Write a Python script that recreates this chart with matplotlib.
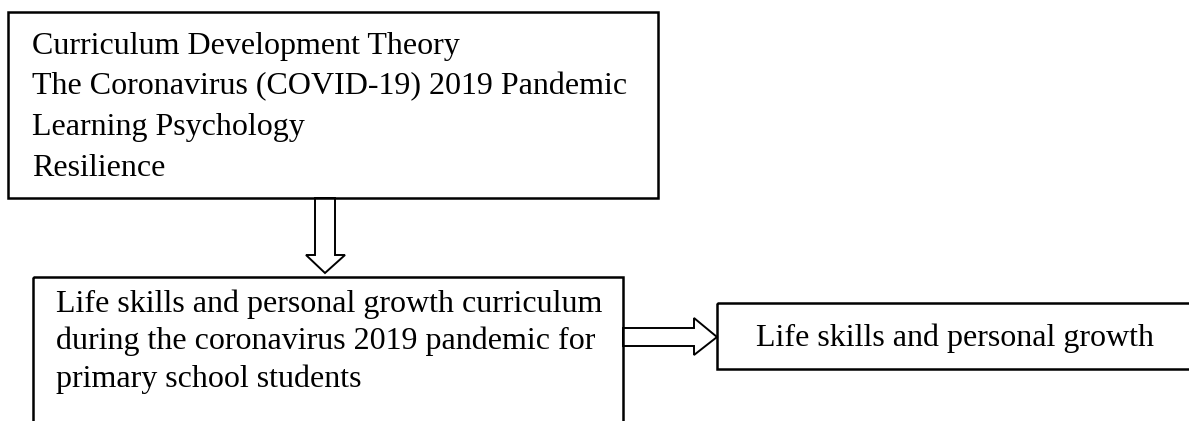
import matplotlib
matplotlib.use("Agg")
import matplotlib.pyplot as plt
from matplotlib.patches import Rectangle, Polygon

top_lines = ["Curriculum Development Theory",
             "The Coronavirus (COVID-19) 2019 Pandemic",
             "Learning Psychology",
             "Resilience"]
mid_lines = ["Life skills and personal growth curriculum",
             "during the coronavirus 2019 pandemic for",
             "primary school students"]
right_label = "Life skills and personal growth"

W, H = 1189, 421
fig = plt.figure(figsize=(W / 100, H / 100), dpi=100)
ax = fig.add_axes([0, 0, 1, 1])
ax.set_xlim(0, W)
ax.set_ylim(H, 0)
ax.axis("off")

FONT = "Liberation Serif"
FS = 23
lw_box = 1.8

# top box
ax.add_patch(Rectangle((8, 12), 650, 186, fill=False, lw=lw_box, ec="black"))
for i, t in enumerate(top_lines):
    ax.text(32, 54 + i * 40.5, t, fontsize=FS, family=FONT, va="baseline", ha="left")

# down arrow
ax.add_patch(Polygon([(315, 198), (335, 198), (335, 255), (345, 255), (325, 273),
                      (306, 255), (315, 255)], closed=True, fill=False, lw=1.4, ec="black"))

# middle box (extends below figure)
ax.add_patch(Rectangle((33, 277), 590, 200, fill=False, lw=lw_box, ec="black"))
for i, t in enumerate(mid_lines):
    ax.text(56, 312 + i * 37.5, t, fontsize=FS, family=FONT, va="baseline", ha="left")

# right arrow
ax.add_patch(Polygon([(623, 328), (694, 328), (694, 318), (717, 337), (694, 355),
                      (694, 346), (623, 346)], closed=True, fill=False, lw=1.4, ec="black"))

# right box (extends beyond right edge)
ax.add_patch(Rectangle((717, 303), 520, 66, fill=False, lw=lw_box, ec="black"))
ax.text(955, 346, right_label, fontsize=FS, family=FONT, va="baseline", ha="center")

fig.savefig("out.png", dpi=100)
